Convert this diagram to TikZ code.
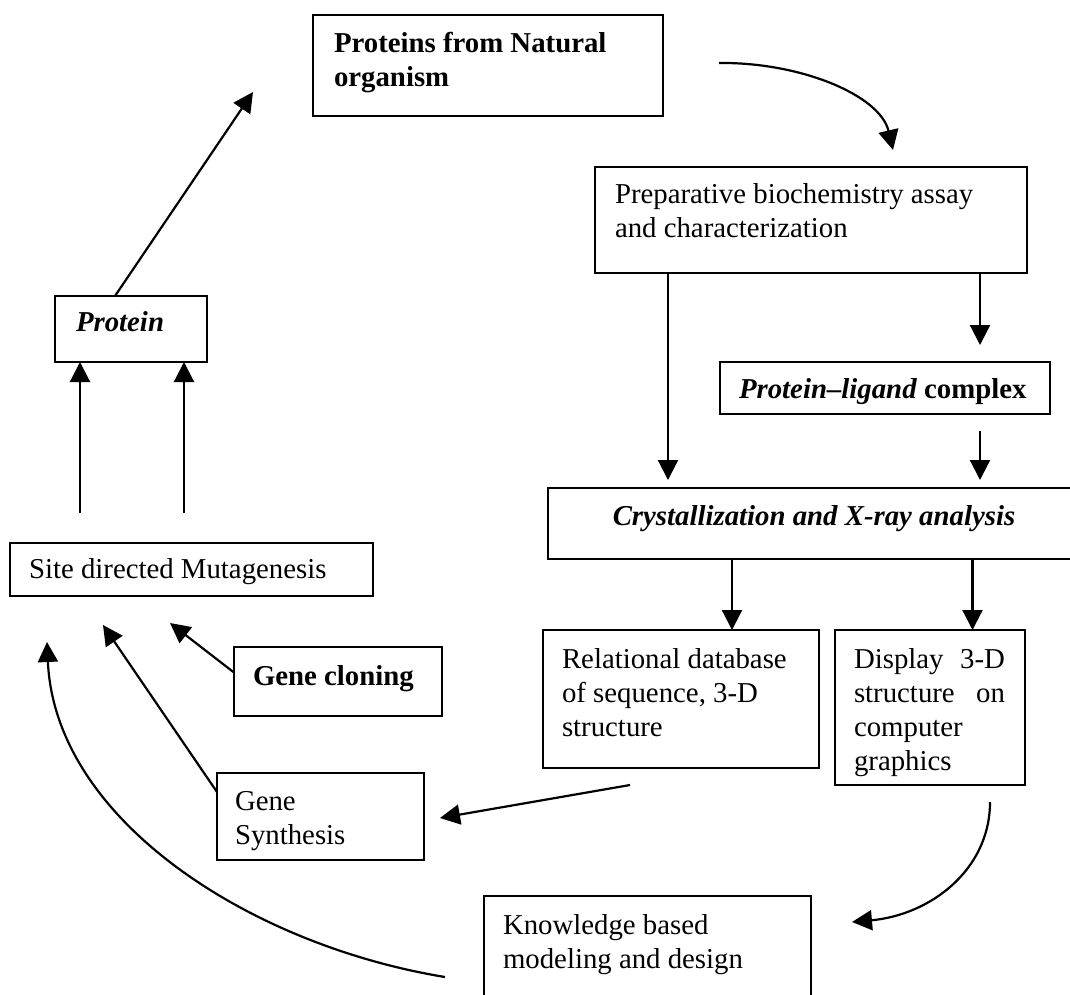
\documentclass[tikz,border=0pt]{standalone}
\usepackage{fontspec}
\setmainfont{Liberation Serif}
\usetikzlibrary{arrows.meta,calc}
\tikzset{
  box/.style={draw=black, line width=2.2pt, inner sep=0pt, outer sep=0pt, anchor=north west},
  txt/.style={inner sep=0pt, outer sep=0pt, anchor=north west, align=left,
              font=\fontsize{28.8pt}{34pt}\selectfont},
  arr/.style={line width=2.2pt, -{Triangle[length=20pt,width=20pt]}},
}
\begin{document}
\begin{tikzpicture}[x=1pt,y=-1pt]
\fill[white] (0,0) rectangle (1070,994);
\useasboundingbox (0,0) rectangle (1070,994);
\clip (0,0) rectangle (1070,994);

% boxes
\node[box, minimum width=350pt, minimum height=101pt] (nat)  at (313,15)  {};
\node[box, minimum width=432pt, minimum height=106pt] (prep) at (595,167) {};
\node[box, minimum width=152pt, minimum height=66pt]  (prot) at (55,296)  {};
\node[box, minimum width=330pt, minimum height=52pt]  (pl)   at (720,362) {};
\node[box, minimum width=530pt, minimum height=71pt]  (cry)  at (548,488) {};
\node[box, minimum width=363pt, minimum height=53pt]  (site) at (10,543)  {};
\node[box, minimum width=276pt, minimum height=138pt] (rel)  at (543,630) {};
\node[box, minimum width=190pt, minimum height=155pt] (disp) at (835,630) {};
\node[box, minimum width=208pt, minimum height=69pt]  (clon) at (234,647) {};
\node[box, minimum width=207pt, minimum height=87pt]  (syn)  at (217,773) {};
\node[box, minimum width=327pt, minimum height=130pt] (know) at (484,896) {};

% texts
\node[txt, font=\fontsize{28.8pt}{34pt}\selectfont\bfseries] (tnat) at (334,32) {Proteins from Natural\\organism};
\node[txt] (tprep) at (615,184) {Preparative biochemistry assay\\and characterization};
\node[txt, font=\fontsize{28.8pt}{34pt}\selectfont\bfseries\itshape] (tprot) at (76,312) {Protein};
\node[txt] (tpl) at (739,379) {\textbf{\textit{Protein--ligand}} \textbf{complex}};
\node[txt, anchor=north, font=\fontsize{28.8pt}{34pt}\selectfont\bfseries\itshape] (tcry) at (814,506) {Crystallization and X-ray analysis};
\node[txt] (tsite) at (29,559) {Site directed Mutagenesis};
\node[txt] (trel) at (562,649) {Relational database\\of sequence, 3-D\\structure};
\node[txt, text width=151pt] (tdisp) at (854,649) {Display\hfill 3-D\\structure\hfill on\\computer\\graphics};
\node[txt, font=\fontsize{28.8pt}{34pt}\selectfont\bfseries] (tclon) at (253,666) {Gene cloning};
\node[txt] (tsyn) at (235,791) {Gene\\Synthesis};
\node[txt] (tknow) at (503,914) {Knowledge based\\modeling and design};

% free ends
\coordinate (natIn)  at (253,92);
\coordinate (natOut) at (719,63);
\coordinate (prepIn) at (893,150);
\coordinate (cryInL) at (668,480);
\coordinate (plIn)   at (980,345);
\coordinate (plOut)  at (980,431);
\coordinate (cryInR) at (980,480);
\coordinate (xa)     at (732,0);
\coordinate (xb)     at (972.5,0);
\coordinate (u1)     at (80,513);
\coordinate (u2)     at (184,513);
\coordinate (sA)     at (170,623);
\coordinate (sB)     at (103,625);
\coordinate (sC)     at (47,642);
\coordinate (kOut)   at (445,977);
\coordinate (rOut)   at (630,785);
\coordinate (synIn)  at (440,818);
\coordinate (dOut)   at (990,802);
\coordinate (kIn)    at (852,922);

% connectors
\draw[arr] ($(prot.north west)+(60,0)$) -- (natIn);
\draw[arr] (natOut) .. controls (800,62) and (880,95) .. (prepIn);
\draw[arr] (prep.south -| cryInL) -- (cryInL);
\draw[arr] (prep.south -| plIn) -- (plIn);
\draw[arr] (plOut) -- (cryInR);
\draw[arr] (cry.south -| xa) -- (rel.north -| xa);
\draw[arr] (cry.south -| xb) -- (disp.north -| xb);
\draw[arr] (u1) -- (prot.south -| u1);
\draw[arr] (u2) -- (prot.south -| u2);
\draw[arr] ($(clon.west)+(0,-9)$) -- (sA);
\draw[arr] ($(syn.north west)+(0,19)$) -- (sB);
\draw[arr] (kOut) .. controls (250,945) and (55,820) .. (sC);
\draw[arr] (rOut) -- (synIn);
\draw[arr] (dOut) .. controls (990,870) and (930,915) .. (kIn);
\end{tikzpicture}
\end{document}
